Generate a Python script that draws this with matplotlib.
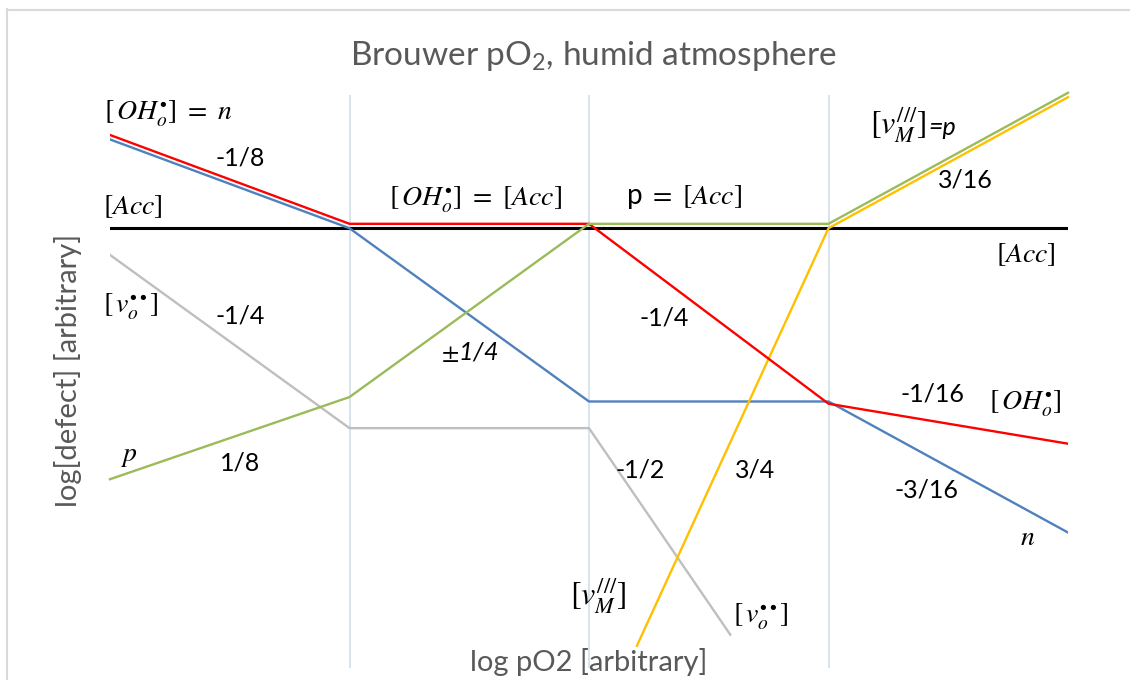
import matplotlib.pyplot as plt
from matplotlib.lines import Line2D

plt.rcParams['font.family'] = ['Lato', 'DejaVu Sans']
plt.rcParams['mathtext.fontset'] = 'stix'

# log pO2 breakpoints (one unit per regime)
x_regimes = [0, 1, 2, 3, 4]

# log[defect], arbitrary units (Acc level = 0)
oh_x = [0, 1, 2, 3, 4]
oh_y = [2.1, 0.1, 0.1, -3.95, -4.85]
n_x = [0, 1, 2, 3, 4]
n_y = [2.0, 0.0, -3.9, -3.9, -6.85]
vo_x = [0, 1, 2, 2.59]
vo_y = [-0.6, -4.5, -4.5, -9.15]
p_x = [0, 1, 2, 3, 4]
p_y = [-5.65, -3.8, 0.1, 0.1, 3.05]
vm_x = [2.2, 3, 4]
vm_y = [-9.4, 0.0, 2.95]
acc_x = [0, 4]
acc_y = [0, 0]

fig = plt.figure(figsize=(11.3, 6.8), dpi=100)
ax = fig.add_axes([110 / 1130, 12 / 680, 958 / 1130, 573 / 680])

for xv in x_regimes[1:-1]:
    ax.axvline(xv, color='#d6e0ee', lw=1.3, zorder=0)

ax.plot(acc_x, acc_y, color='black', lw=2.2, zorder=2)
ax.plot(vo_x, vo_y, color='#bfbfbf', lw=1.7, zorder=3)
ax.plot(n_x, n_y, color='#4f81bd', lw=1.7, zorder=3)
ax.plot(oh_x, oh_y, color='#ff0000', lw=1.7, zorder=4)
ax.plot(p_x, p_y, color='#9bbb59', lw=1.7, zorder=4, clip_on=False)
ax.plot(vm_x, vm_y, color='#ffc000', lw=1.7, zorder=3, clip_on=False)

ax.set_xlim(0, 4)
ax.set_ylim(-9.9, 3.0)
ax.set_xticks([])
ax.set_yticks([])
for s in ax.spines.values():
    s.set_visible(False)


def px(xp, yp):
    # pixel position -> data position
    return (xp - 110) / 239.5, (228 - yp) / 44.5


def label(xp, yp, s, ha='center', size=18, **kw):
    x, y = px(xp, yp)
    ax.text(x, y, s, ha=ha, va='center', fontsize=size, color='black',
            clip_on=False, **kw)


msize = 20
oh = r'[\,OH_o^{\bullet}]'
vo = r'[\,v_o^{\bullet\bullet}]'
vm = r'[v_M^{///}]'
label(104, 113, '$' + oh + r'\ =\ n$', ha='left', size=msize)
label(103, 206, r'$[Acc]$', ha='left', size=msize)
label(103, 307, '$' + vo + '$', ha='left', size=msize)
label(120, 456, r'$p$', ha='left', size=msize)
label(475, 200, '$' + oh + r'\ =\ [Acc]$', size=msize)
label(684, 197, r'p $=\ [Acc]$', size=msize)
label(598, 596, '$' + vm + '$', size=msize + 3)
label(761, 617, '$' + vo + '$', size=msize)
label(870, 124, '$' + vm + '$', ha='left', size=msize + 3)
label(928, 127, '=p', ha='left', size=18, style='italic')
label(1026, 254, r'$[Acc]$', size=msize)
label(1025, 404, '$' + oh + '$', size=msize)
label(1028, 537, r'$n$', size=msize)

label(240, 158, '-1/8')
label(240, 316, '-1/4')
label(240, 463, '1/8')
label(470, 352, r'$\pm$' + '1/4', style='italic')
label(664, 318, '-1/4')
label(640, 470, '-1/2')
label(755, 470, '3/4')
label(965, 180, '3/16')
label(932, 394, '-1/16')
label(927, 490, '-3/16')

fig.text(593 / 1130, 1 - 56 / 680, r'Brouwer pO$\mathregular{_2}$, humid atmosphere',
         ha='center', va='center', fontsize=24, color='#595959')
fig.text(68 / 1130, 1 - 370 / 680, 'log[defect] [arbitrary]', rotation=90,
         ha='center', va='center', fontsize=21, color='#595959')
fig.text(589 / 1130, 1 - 662 / 680, 'log pO2 [arbitrary]',
         ha='center', va='center', fontsize=21, color='#595959')

# chart area border
fig.add_artist(Line2D([6.5 / 1130, 6.5 / 1130], [0, 1 - 9 / 680],
                      transform=fig.transFigure, color='#d9d9d9', lw=1.5))
fig.add_artist(Line2D([6.5 / 1130, 1], [1 - 9.5 / 680, 1 - 9.5 / 680],
                      transform=fig.transFigure, color='#d9d9d9', lw=1.5))

fig.savefig('out.png', dpi=100)
